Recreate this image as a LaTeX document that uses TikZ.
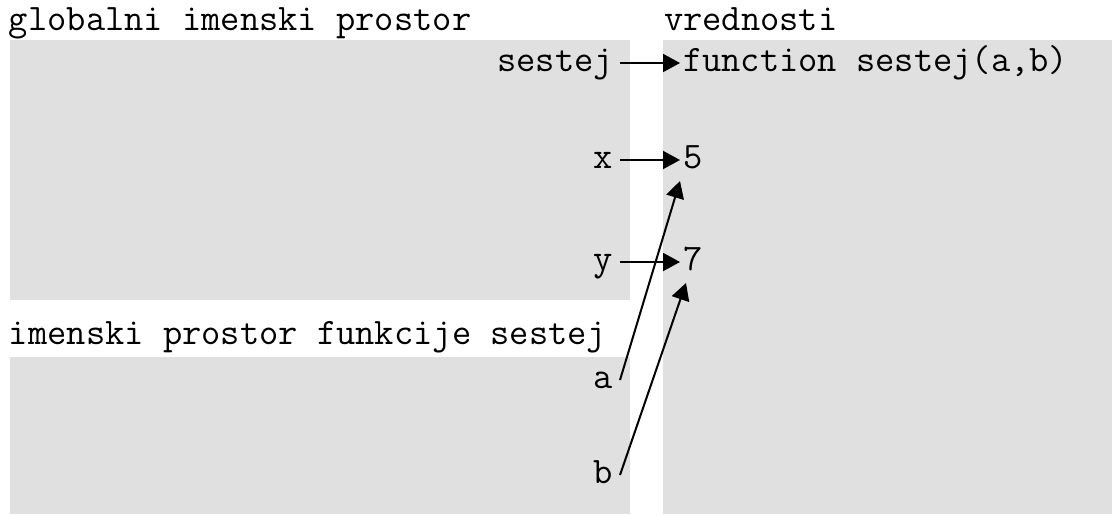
\documentclass[tikz,border=0pt]{standalone}
\usetikzlibrary{arrows.meta}
\definecolor{ozadje}{HTML}{E0E0E0}
\begin{document}
\begin{tikzpicture}[x=0.5pt,y=-0.5pt,line width=1pt,
      font=\ttfamily\fontsize{18.7}{22}\selectfont,
      pfeil/.style={-{Triangle[length=8.5pt,width=9pt]}},
      mytext/.style={inner sep=3pt,text height=11pt,text depth=3pt},
      polje/.style={fill=ozadje,draw=none}]
    \useasboundingbox (0,0) rectangle (1112,514);
    % ozadja
    \fill[polje] (10,40) rectangle (630,300);
    \fill[polje] (10,357) rectangle (630,514);
    \fill[polje] (663,40) rectangle (1112,514);
    % naslovi
    \node[mytext,inner sep=0pt] at (8,22) [anchor=west] (T0) {globalni imenski prostor};
    \node[mytext,inner sep=0pt] at (663,22) [anchor=west] (T1) {vrednosti};
    \node[mytext,inner sep=0pt] at (8,336) [anchor=west] (T2) {imenski prostor funkcije sestej};
    % imena
    \node[mytext] at (620,63) [anchor=east] (A0) {sestej};
    \node[mytext] at (620,160) [anchor=east] (A1) {x};
    \node[mytext] at (620,262) [anchor=east] (A2) {y};
    \node[mytext] at (620,380) [anchor=east] (A3) {a};
    \node[mytext] at (620,475) [anchor=east] (A4) {b};
    % vrednosti
    \node[mytext,inner xsep=1pt] at (680,63) [anchor=west] (B0) {function sestej(a,b)};
    \node[mytext,inner xsep=1pt] at (680,160) [anchor=west] (B1) {5};
    \node[mytext,inner xsep=1pt] at (680,262) [anchor=west] (B2) {7};
    \draw[pfeil] (A0)--(B0);
    \draw[pfeil] (A1)--(B1);
    \draw[pfeil] (A2)--(B2);
    \draw[pfeil] (A3.east)--(B1.south west);
    \draw[pfeil] (A4.east)--([xshift=3]B2.south west);
  \end{tikzpicture}
\end{document}
